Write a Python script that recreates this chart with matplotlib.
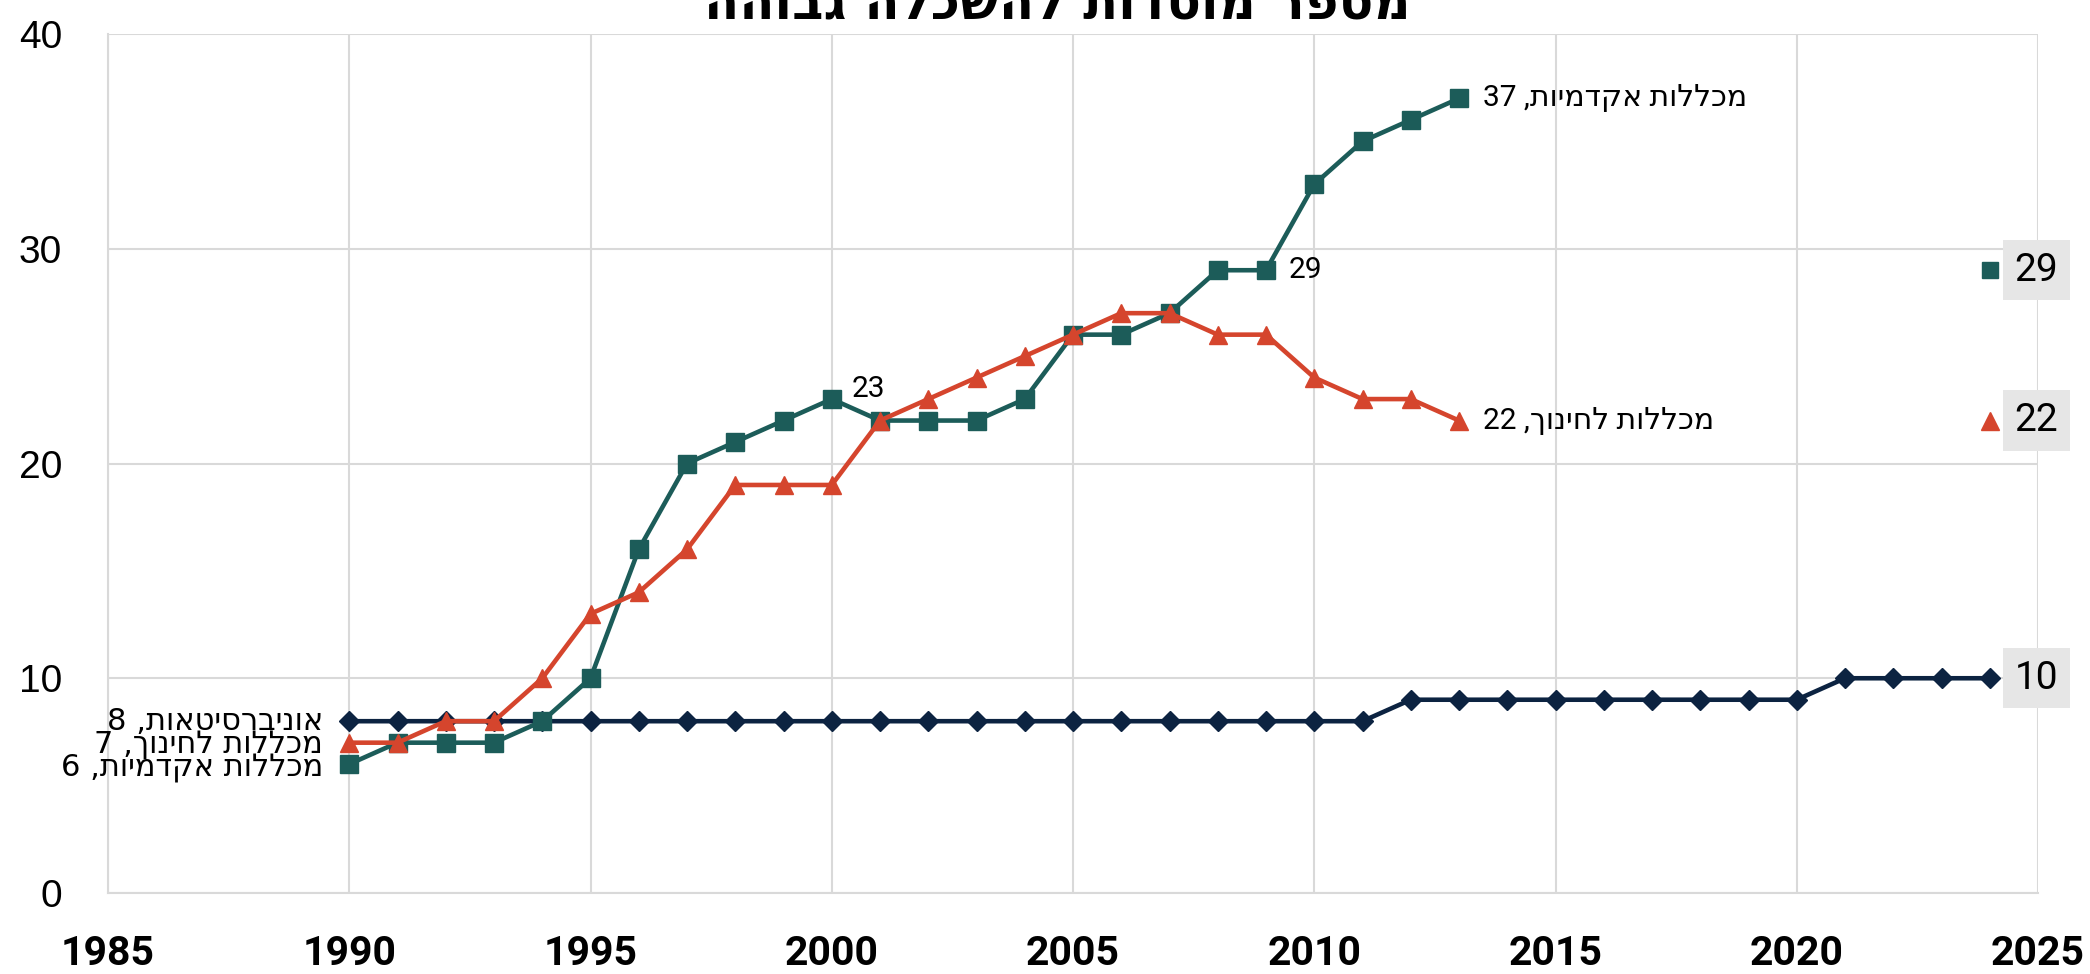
import matplotlib
matplotlib.use('Agg')
import matplotlib.pyplot as plt

# data
years_uni = [1990, 1991, 1992, 1993, 1994, 1995, 1996, 1997, 1998, 1999,
             2000, 2001, 2002, 2003, 2004, 2005, 2006, 2007, 2008, 2009,
             2010, 2011, 2012, 2013, 2014, 2015, 2016, 2017, 2018, 2019,
             2020, 2021, 2022, 2023, 2024]
universities = [8, 8, 8, 8, 8, 8, 8, 8, 8, 8,
                8, 8, 8, 8, 8, 8, 8, 8, 8, 8,
                8, 8, 9, 9, 9, 9, 9, 9, 9, 9,
                9, 10, 10, 10, 10]

years_col = [1990, 1991, 1992, 1993, 1994, 1995, 1996, 1997, 1998, 1999,
             2000, 2001, 2002, 2003, 2004, 2005, 2006, 2007, 2008, 2009,
             2010, 2011, 2012, 2013]
academic = [6, 7, 7, 7, 8, 10, 16, 20, 21, 22,
            23, 22, 22, 22, 23, 26, 26, 27, 29, 29,
            33, 35, 36, 37]
education = [7, 7, 8, 8, 10, 13, 14, 16, 19, 19,
             19, 22, 23, 24, 25, 26, 27, 27, 26, 26,
             24, 23, 23, 22]

latest_year = 2024
latest_academic = 29
latest_education = 22

name_uni = 'אוניברסיטאות'
name_acad = 'מכללות אקדמיות'
name_edu = 'מכללות לחינוך'
title = 'מספר מוסדות להשכלה גבוהה'

navy = '#0c2341'
teal = '#1c5c59'
red = '#d5452d'
grid_c = '#d9d9d9'
box_c = '#e6e6e6'
lab_font = ['Roboto', 'DejaVu Sans']


def vis(name, val):
    # matplotlib has no bidi support: build the visual (left-to-right) order
    return f'{val} ,' + name[::-1]


fig = plt.figure(figsize=(20.9, 9.74), dpi=100)
ax = fig.add_axes([108 / 2090, 81 / 974, 1930 / 2090, 859 / 974])

ax.plot(years_uni, universities, color=navy, lw=3.3, marker='D', ms=10.5, zorder=3)
ax.plot(years_col, academic, color=teal, lw=3.3, marker='s', ms=12.5, zorder=4)
ax.plot(years_col, education, color=red, lw=3.3, marker='^', ms=13.5, zorder=5)

# latest-value markers on the right edge
ax.plot([latest_year], [latest_academic], color=teal, marker='s', ms=12, ls='none', zorder=4)
ax.plot([latest_year], [latest_education], color=red, marker='^', ms=13, ls='none', zorder=5)

ax.set_xlim(1985, 2025)
ax.set_ylim(0, 40)
ax.set_xticks([1985, 1990, 1995, 2000, 2005, 2010, 2015, 2020, 2025])
ax.set_yticks([0, 10, 20, 30, 40])
ax.grid(True, color=grid_c, lw=1.5)
ax.set_axisbelow(True)
for s in ['top', 'right']:
    ax.spines[s].set_visible(False)
for s in ['left', 'bottom']:
    ax.spines[s].set_color(grid_c)
    ax.spines[s].set_linewidth(1.5)
ax.tick_params(axis='both', length=0)
ax.tick_params(axis='x', pad=30)
ax.tick_params(axis='y', pad=33)
for t in ax.get_xticklabels():
    t.set_fontfamily('Roboto')
    t.set_fontweight('bold')
    t.set_fontsize(29.5)
for t in ax.get_yticklabels():
    t.set_fontfamily('Liberation Sans')
    t.set_fontsize(28)

# labels at the start of the series
ax.annotate(vis(name_uni, universities[0]), (years_uni[0], universities[0]),
            xytext=(-26, 0), textcoords='offset pixels', ha='right', va='center',
            fontsize=22, family='DejaVu Sans', zorder=6)
ax.annotate(vis(name_edu, education[0]), (years_col[0], education[0]),
            xytext=(-26, -2), textcoords='offset pixels', ha='right', va='center',
            fontsize=22, family='DejaVu Sans', zorder=6)
ax.annotate(vis(name_acad, academic[0]), (years_col[0], academic[0]),
            xytext=(-26, -4), textcoords='offset pixels', ha='right', va='center',
            fontsize=22, family='DejaVu Sans', zorder=6)

# labels at the end of the colleges series
ax.annotate(vis(name_acad, academic[-1]), (years_col[-1], academic[-1]),
            xytext=(24, 0), textcoords='offset pixels', ha='left', va='center',
            fontsize=21.5, family=lab_font, zorder=6)
ax.annotate(vis(name_edu, education[-1]), (years_col[-1], education[-1]),
            xytext=(24, 0), textcoords='offset pixels', ha='left', va='center',
            fontsize=21.5, family=lab_font, zorder=6)

# single value labels
i2000 = years_col.index(2000)
ax.annotate(str(academic[i2000]), (2000, academic[i2000]),
            xytext=(20, 10), textcoords='offset pixels', ha='left', va='center',
            fontsize=21.5, family=lab_font, zorder=6)
i2009 = years_col.index(2009)
ax.annotate(str(academic[i2009]), (2009, academic[i2009]),
            xytext=(23, 0), textcoords='offset pixels', ha='left', va='center',
            fontsize=21.5, family=lab_font, zorder=6)

# boxed latest values
for val in [latest_academic, latest_education, universities[-1]]:
    ax.annotate(str(val), (latest_year, val), xytext=(25, 0),
                textcoords='offset pixels', ha='left', va='center',
                fontsize=28, family='Roboto', annotation_clip=False,
                bbox=dict(boxstyle='square,pad=0.3', fc=box_c, ec='none'), zorder=6)

fig.text(1057 / 2090, 1 - 20 / 974, title[::-1], ha='center', va='baseline',
         fontsize=37, fontweight='bold', family='DejaVu Sans')

fig.savefig('out.png', dpi=100)
